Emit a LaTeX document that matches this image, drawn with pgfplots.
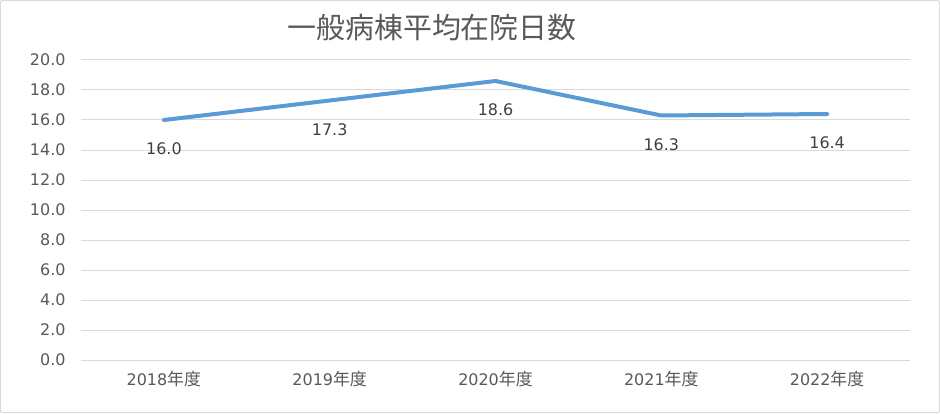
\documentclass[border=0pt]{standalone}
\usepackage{pgfplots}
\pgfplotsset{compat=1.18}
\usepackage{fontspec}
\setmainfont{DejaVu Sans}
\newfontfamily\cjk{Noto Sans CJK JP}
\definecolor{txt}{HTML}{595959}
\definecolor{gridc}{HTML}{D9D9D9}
\definecolor{linec}{HTML}{5B9BD5}
\begin{document}
\begin{tikzpicture}[x=1bp,y=1bp]
\draw[draw=gridc, fill=white, rounded corners=2bp, line width=1bp] (0.5,0.5) rectangle (939.5,412.5);
\node[text=txt, font=\cjk\fontsize{29}{32}\selectfont] at (432,385) {一般病棟平均在院日数};
\begin{axis}[
  at={(81bp,53bp)}, anchor=south west,
  scale only axis, width=829bp, height=300bp,
  xmin=-0.5, xmax=4.5, ymin=0, ymax=20,
  xtick={0,1,2,3,4},
  xticklabels={2018{\cjk\fontsize{17}{19}\selectfont 年度},2019{\cjk\fontsize{17}{19}\selectfont 年度},2020{\cjk\fontsize{17}{19}\selectfont 年度},2021{\cjk\fontsize{17}{19}\selectfont 年度},2022{\cjk\fontsize{17}{19}\selectfont 年度}},
  ytick={0,2,...,20},
  yticklabel={\pgfmathprintnumber[fixed,fixed zerofill,precision=1]{\tick}},
  /pgf/number format/assume math mode=true,
  axis line style={draw=none},
  major tick length=0pt,
  xmajorgrids=false,
  ymajorgrids=true, grid style={draw=gridc, line width=1bp},
  tick label style={text=txt, font=\fontsize{16}{18}\selectfont},
  yticklabel style={xshift=-12bp},
  xticklabel style={yshift=-8bp},
  nodes near coords,
  nodes near coords style={anchor=center, yshift=-29bp, text=black!75, font=\fontsize{16}{18}\selectfont,
    /pgf/number format/.cd, fixed, fixed zerofill, precision=1, assume math mode=true},
  clip=false,
]
\addplot[linec, line width=4bp, line cap=round, line join=round] coordinates {(0,16.0) (1,17.3) (2,18.6) (3,16.3) (4,16.4)};
\end{axis}
\end{tikzpicture}
\end{document}
